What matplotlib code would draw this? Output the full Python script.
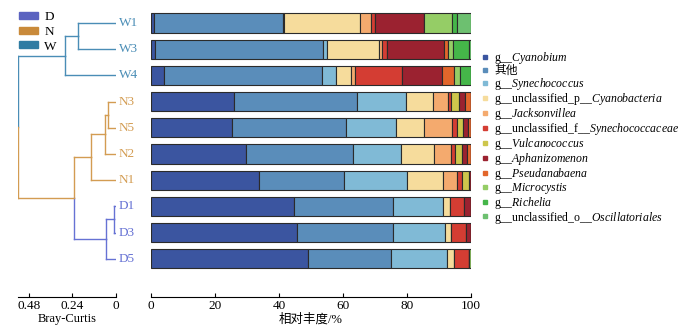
import numpy as np
import matplotlib
matplotlib.use("Agg")
import matplotlib.pyplot as plt
from matplotlib.patches import Patch
from matplotlib.lines import Line2D

plt.rcParams["font.family"] = ["Liberation Serif", "Noto Sans CJK SC"]
plt.rcParams["mathtext.fontset"] = "custom"
plt.rcParams["mathtext.rm"] = "Liberation Serif"
plt.rcParams["mathtext.it"] = "Liberation Serif:italic"

# samples, top to bottom
samples = ["W1", "W3", "W4", "N3", "N5", "N2", "N1", "D1", "D3", "D5"]
groups = ["W", "W", "W", "N", "N", "N", "N", "D", "D", "D"]

taxa = ["g__$\\mathit{Cyanobium}$", "其他", "g__$\\mathit{Synechococcus}$",
        "g__unclassified_p__$\\mathit{Cyanobacteria}$", "g__$\\mathit{Jacksonvillea}$",
        "g__unclassified_f__$\\mathit{Synechococcaceae}$", "g__$\\mathit{Vulcanococcus}$",
        "g__$\\mathit{Aphanizomenon}$", "g__$\\mathit{Pseudanabaena}$",
        "g__$\\mathit{Microcystis}$", "g__$\\mathit{Richelia}$",
        "g__unclassified_o__$\\mathit{Oscillatoriales}$"]
taxa_colors = ["#3b55a0", "#5a8dba", "#80bad6", "#f6dc9c", "#f4aa6e", "#d43d33",
               "#cdc64c", "#9b2230", "#e2662b", "#95cd66", "#45b649", "#6dc070"]

# relative abundance (%) per sample, same order as taxa
W1 = [0.8, 40.5, 0.2, 23.7, 3.7, 1.0, 0.0, 15.3, 0.0, 8.8, 1.6, 4.4]
W3 = [1.3, 52.5, 1.2, 16.3, 0.9, 1.5, 0.0, 17.8, 1.2, 1.6, 5.0, 0.6]
W4 = [4.1, 49.4, 4.4, 4.7, 1.2, 14.7, 0.0, 12.5, 3.7, 1.9, 3.4, 0.0]
N3 = [25.9, 38.4, 15.3, 8.4, 4.7, 1.2, 2.2, 1.9, 1.9, 0.0, 0.0, 0.0]
N5 = [25.3, 35.6, 15.6, 8.8, 8.7, 1.6, 1.9, 1.6, 0.9, 0.0, 0.0, 0.0]
N2 = [29.6, 33.4, 15.0, 10.3, 5.3, 1.3, 2.2, 1.6, 1.3, 0.0, 0.0, 0.0]
N1 = [33.8, 26.6, 19.7, 11.2, 4.4, 1.6, 2.1, 0.6, 0.0, 0.0, 0.0, 0.0]
D1 = [44.6, 30.9, 15.6, 2.2, 0.0, 4.4, 0.0, 2.3, 0.0, 0.0, 0.0, 0.0]
D3 = [45.6, 30.0, 16.2, 1.9, 0.0, 4.7, 0.0, 1.6, 0.0, 0.0, 0.0, 0.0]
D5 = [49.0, 25.9, 17.5, 2.2, 0.0, 4.7, 0.0, 0.1, 0.0, 0.6, 0.0, 0.0]

# Bray-Curtis clustering: (left, right, height)
merges = [("W1", "W3", 0.21), ("W1+W3", "W4", 0.28),
          ("N3", "N5", 0.044), ("N3+N5", "N2", 0.061), ("N3+N5+N2", "N1", 0.138),
          ("D1", "D3", 0.011), ("D1+D3", "D5", 0.055),
          ("N3+N5+N2+N1", "D1+D3+D5", 0.232),
          ("W1+W3+W4", "N3+N5+N2+N1+D1+D3+D5", 0.54)]

group_names = ["D", "N", "W"]
group_patch = {"D": "#5b63c0", "N": "#c98a3a", "W": "#2f7ca3"}
group_line = {"D": "#6672d4", "N": "#d39c52", "W": "#4a8db6"}

abund = np.array([W1, W3, W4, N3, N5, N2, N1, D1, D3, D5])
ypos = np.arange(len(samples))

fig = plt.figure(figsize=(6.83, 3.27), dpi=100)
W, H = 683, 327
ax_bar = fig.add_axes([151 / W, 30 / H, 320 / W, 297 / H])
ax_den = fig.add_axes([18 / W, 30 / H, 98 / W, 297 / H], sharey=ax_bar)

# stacked bars
left = np.zeros(len(samples))
for j, t in enumerate(taxa):
    ax_bar.barh(ypos, abund[:, j], left=left, height=0.73, color=taxa_colors[j],
                edgecolor="#2b2b2b", linewidth=0.8, label=t)
    left += abund[:, j]
ax_bar.set_xlim(0, 100)
for s in ["top", "right", "left"]:
    ax_bar.spines[s].set_visible(False)
ax_bar.tick_params(axis="y", left=False, labelleft=False)
ax_bar.tick_params(axis="x", direction="in", length=3, labelsize=9.5, pad=2)
ax_bar.set_xticks([0, 20, 40, 60, 80, 100])
ax_bar.set_xlabel("相对丰度/%", fontsize=9, labelpad=1)

# dendrogram
node_y = {s: y for s, y in zip(samples, ypos)}
node_h = {s: 0.0 for s in samples}
node_c = {s: group_line[g] for s, g in zip(samples, groups)}
for a, b, h in merges:
    for child in (a, b):
        ax_den.plot([node_h[child], h], [node_y[child]] * 2, color=node_c[child], lw=1)
    ym = (node_y[a] + node_y[b]) / 2
    ax_den.plot([h, h], [node_y[a], ym], color=node_c[a], lw=1)
    ax_den.plot([h, h], [ym, node_y[b]], color=node_c[b], lw=1)
    name = a + "+" + b
    node_y[name] = ym
    node_h[name] = h
    node_c[name] = node_c[a]
for s, g, y in zip(samples, groups, ypos):
    ax_den.text(-0.015, y, s, color=group_line[g], fontsize=9.5, va="center",
                ha="left", clip_on=False)
ax_den.set_xlim(0.54, 0)
for s in ["top", "right", "left"]:
    ax_den.spines[s].set_visible(False)
ax_den.tick_params(axis="y", left=False, labelleft=False)
ax_den.tick_params(axis="x", direction="in", length=3, labelsize=9.5, pad=2)
ax_den.set_xticks([0.48, 0.24, 0])
ax_den.set_xticklabels(["0.48", "0.24", "0"])
ax_den.set_xlabel("Bray-Curtis", fontsize=9, labelpad=1)

ax_bar.set_ylim(10.46, -0.88)

# group legend
gh = [Patch(color=group_patch[g]) for g in group_names]
fig.legend(gh, group_names, loc="upper left", bbox_to_anchor=(10 / W, 1 - 2 / H),
           frameon=False, fontsize=9.5, handlelength=1.4, handleheight=0.45,
           labelspacing=0.2, handletextpad=0.5, borderpad=0.2)

# taxa legend
th = [Line2D([], [], ls="", marker="s", markersize=3.5, color=c) for c in taxa_colors]
fig.legend(th, taxa, loc="upper left", bbox_to_anchor=(473 / W, 1 - 42 / H),
           frameon=False, fontsize=8.5, handlelength=0.6, labelspacing=-0.09,
           handletextpad=0.5, borderpad=0.2)

fig.savefig("out.png", dpi=100)
